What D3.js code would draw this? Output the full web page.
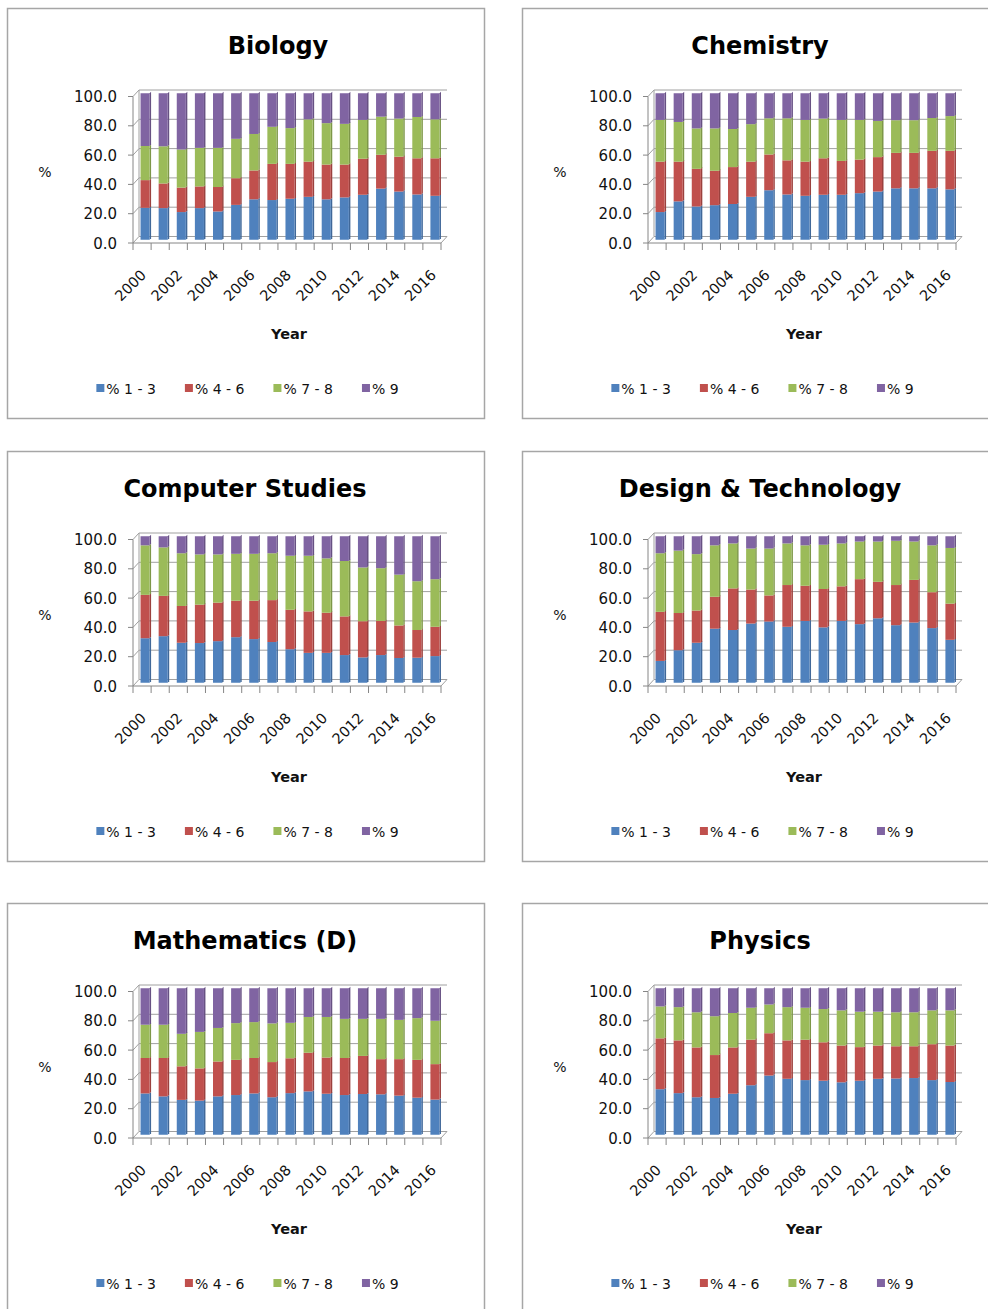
<!DOCTYPE html>
<html>
<head>
<meta charset="utf-8">
<script src="https://cdn.jsdelivr.net/npm/d3@7"></script>
<style>
  body { margin: 0; background: #fff; }
  text { font-family: "DejaVu Sans", Verdana, sans-serif; fill: #111; }
</style>
</head>
<body>
<div id="chart"></div>
<script>
// categories
const years = [2000, 2001, 2002, 2003, 2004, 2005, 2006, 2007, 2008,
               2009, 2010, 2011, 2012, 2013, 2014, 2015, 2016];
const yearTicks = [2000, 2002, 2004, 2006, 2008, 2010, 2012, 2014, 2016];
const seriesNames = ["% 1 - 3", "% 4 - 6", "% 7 - 8", "% 9"];
const subjects = ["Biology", "Chemistry", "Computer Studies", "Design & Technology", "Mathematics (D)", "Physics"];
const yTicks = [0, 20, 40, 60, 80, 100];

// values per subject : [%1-3, %4-6, %7-8, %9], one value per year
const biology = [
  [21.8, 21.6, 18.9, 21.6, 19.3, 23.8, 27.6, 27.1, 28.0, 29.3, 27.6, 28.9, 30.7, 34.9, 32.9, 30.9, 30.0],
  [18.9, 16.8, 16.7, 14.8, 16.7, 18.2, 19.7, 24.7, 23.8, 24.0, 23.7, 22.4, 24.6, 23.1, 23.8, 24.7, 25.6],
  [23.3, 25.4, 26.0, 26.3, 26.7, 26.9, 24.9, 25.3, 24.4, 28.9, 28.3, 27.8, 26.5, 26.0, 26.0, 28.2, 26.6],
  [36.0, 36.2, 38.4, 37.3, 37.3, 31.1, 27.8, 22.9, 23.8, 17.8, 20.4, 20.9, 18.2, 16.0, 17.3, 16.2, 17.8]
];
const chemistry = [
  [18.9, 26.2, 22.7, 23.6, 24.4, 29.3, 33.8, 30.9, 30.0, 30.7, 30.7, 31.8, 32.9, 35.1, 35.1, 35.1, 34.4],
  [34.4, 27.1, 25.7, 23.5, 25.2, 24.0, 24.4, 23.3, 23.3, 24.9, 23.1, 22.9, 23.5, 24.2, 24.2, 25.6, 26.3],
  [28.5, 27.1, 27.6, 28.9, 26.0, 25.6, 24.7, 28.7, 28.5, 27.1, 28.0, 27.1, 24.7, 22.3, 22.3, 22.4, 23.7],
  [18.2, 19.6, 24.0, 24.0, 24.4, 21.1, 17.1, 17.1, 18.2, 17.3, 18.2, 18.2, 18.9, 18.4, 18.4, 16.9, 15.6]
];
const computerStudies = [
  [30.4, 31.8, 27.3, 27.1, 28.4, 31.1, 29.8, 27.8, 22.9, 20.4, 20.4, 18.9, 17.3, 18.9, 16.9, 17.1, 18.2],
  [29.6, 27.5, 25.1, 26.2, 26.3, 24.9, 26.2, 28.6, 26.9, 28.3, 27.4, 26.4, 24.7, 23.3, 22.2, 18.9, 20.0],
  [33.8, 33.1, 36.0, 34.3, 32.9, 32.0, 32.0, 32.0, 36.9, 38.0, 37.1, 37.8, 36.7, 36.0, 34.7, 33.3, 32.5],
  [6.2, 7.6, 11.6, 12.4, 12.4, 12.0, 12.0, 11.6, 13.3, 13.3, 15.1, 16.9, 21.3, 21.8, 26.2, 30.7, 29.3]
];
const designTech = [
  [14.9, 22.2, 27.3, 36.9, 36.0, 40.4, 41.8, 38.2, 42.2, 37.8, 42.2, 40.0, 44.0, 39.3, 41.1, 37.3, 29.3],
  [33.5, 25.4, 22.0, 21.8, 28.4, 23.2, 17.8, 28.5, 24.0, 26.2, 23.6, 30.7, 24.9, 27.4, 29.1, 24.5, 24.7],
  [40.0, 42.6, 38.5, 35.1, 30.7, 28.0, 32.0, 28.4, 27.6, 30.2, 29.3, 25.7, 27.5, 30.2, 26.2, 32.0, 38.0],
  [11.6, 9.8, 12.2, 6.2, 4.9, 8.4, 8.4, 4.9, 6.2, 5.8, 4.9, 3.6, 3.6, 3.1, 3.6, 6.2, 8.0]
];
const mathematics = [
  [28.2, 26.2, 23.8, 23.3, 26.2, 27.1, 28.2, 25.6, 28.4, 29.6, 28.0, 27.1, 27.8, 27.6, 26.7, 25.3, 24.0],
  [24.2, 26.2, 22.9, 22.0, 23.8, 24.0, 24.2, 24.0, 23.8, 26.4, 24.7, 25.3, 26.0, 24.0, 24.9, 25.8, 24.2],
  [22.7, 22.7, 22.2, 24.9, 22.9, 25.1, 24.5, 26.4, 24.2, 24.4, 27.7, 26.7, 25.3, 27.5, 26.8, 28.5, 29.6],
  [24.9, 24.9, 31.1, 29.8, 27.1, 23.8, 23.1, 24.0, 23.6, 19.6, 19.6, 20.9, 20.9, 20.9, 21.6, 20.4, 22.2]
];
const physics = [
  [31.1, 28.4, 25.6, 25.1, 28.0, 33.8, 40.4, 38.2, 37.3, 36.9, 35.8, 36.9, 38.2, 38.4, 38.7, 37.3, 36.0],
  [34.7, 36.0, 34.0, 29.3, 31.6, 31.1, 28.9, 26.2, 27.6, 26.2, 25.1, 22.9, 22.7, 22.0, 21.7, 24.5, 24.9],
  [21.8, 22.7, 24.0, 26.5, 23.5, 21.8, 19.6, 22.7, 21.8, 22.7, 24.0, 24.2, 23.1, 23.2, 23.2, 23.1, 24.0],
  [12.4, 12.9, 16.4, 19.1, 16.9, 13.3, 11.1, 12.9, 13.3, 14.2, 15.1, 16.0, 16.0, 16.4, 16.4, 15.1, 15.1]
];
const subjectValues = [biology, chemistry, computerStudies, designTech, mathematics, physics];

const colors = ["#4f81bd", "#c0504d", "#9bbb59", "#8064a2"];

// layout
const W = 988, H = 1309;
const colX = [7, 522], rowY = [8, 451, 903];
const panelW = 477, panelH = 410;
const titleShift = [33, 0, 0, 0, 0, 0];
const px0 = 126, px1 = 434, py0 = 235, py1 = 88.5;
const dx = 6, dy = -6.5; // depth of the 3d walls

const svg = d3.create("svg")
    .attr("width", W)
    .attr("height", H)
    .style("display", "block")
    .style("background", "#fff");

// attach first so text lengths can be measured
document.getElementById("chart").appendChild(svg.node());

const x = d3.scaleBand().domain(years).range([px0, px1]).paddingInner(0.5).paddingOuter(0.25);
const y = d3.scaleLinear().domain([0, 100]).range([py0, py1]);
const step = x.step();
const bw = x.bandwidth();

subjects.forEach((name, k) => {
  const g = svg.append("g")
      .attr("transform", `translate(${colX[k % 2]},${rowY[Math.floor(k / 2)]})`);

  g.append("rect")
      .attr("x", 0.5).attr("y", 0.5)
      .attr("width", panelW).attr("height", panelH)
      .attr("fill", "#fff")
      .attr("stroke", "#a6a6a6")
      .attr("stroke-width", 1.5);

  g.append("text")
      .attr("x", 238 + titleShift[k])
      .attr("y", 46)
      .attr("text-anchor", "middle")
      .style("font-size", "24px")
      .style("font-weight", "bold")
      .style("fill", "#000")
      .text(name);

  // back wall + floor
  const grid = g.append("g").attr("stroke", "#a0a0a0").attr("stroke-width", 1).attr("fill", "none");
  grid.selectAll("line.gl")
    .data(yTicks)
    .join("line")
      .attr("x1", px0 + dx).attr("x2", px1 + dx)
      .attr("y1", d => y(d) + dy).attr("y2", d => y(d) + dy);
  grid.selectAll("line.dg")
    .data(yTicks)
    .join("line")
      .attr("x1", px0).attr("x2", px0 + dx)
      .attr("y1", d => y(d)).attr("y2", d => y(d) + dy);
  grid.append("line")
      .attr("x1", px0 + dx).attr("x2", px0 + dx)
      .attr("y1", y(0) + dy).attr("y2", y(100) + dy);
  grid.append("line")
      .attr("x1", px1).attr("x2", px1 + dx)
      .attr("y1", y(0)).attr("y2", y(0) + dy);

  // stacked columns
  const rows = years.map((yr, i) => {
    const o = { year: yr };
    seriesNames.forEach((s, j) => o[s] = subjectValues[k][j][i]);
    return o;
  });
  const stacked = d3.stack().keys(seriesNames)(rows);

  const bars = g.append("g");
  stacked.forEach((layer, j) => {
    const lg = bars.append("g");
    lg.selectAll("path.side")
      .data(layer)
      .join("path")
        .attr("fill", d3.color(colors[j]).darker(0.6))
        .attr("d", d => {
          const bx = x(d.data.year) + dx / 2 + bw, by = y(d[1]) + dy / 2, bh = y(d[0]) - y(d[1]);
          return `M${bx},${by}L${bx + 1.5},${by - 1.5}L${bx + 1.5},${by + bh - 1.5}L${bx},${by + bh}Z`;
        });
    lg.selectAll("rect")
      .data(layer)
      .join("rect")
        .attr("x", d => x(d.data.year) + dx / 2)
        .attr("y", d => y(d[1]) + dy / 2)
        .attr("width", bw)
        .attr("height", d => y(d[0]) - y(d[1]))
        .attr("fill", colors[j]);
  });

  // front axes
  const ax = g.append("g").attr("stroke", "#868686").attr("stroke-width", 1);
  ax.append("line")
      .attr("x1", px0).attr("x2", px0)
      .attr("y1", y(0)).attr("y2", y(100));
  ax.selectAll("line.yt")
    .data(yTicks)
    .join("line")
      .attr("x1", px0 - 5).attr("x2", px0)
      .attr("y1", d => y(d)).attr("y2", d => y(d));
  ax.append("line")
      .attr("x1", px0).attr("x2", px1)
      .attr("y1", y(0)).attr("y2", y(0));
  ax.selectAll("line.xt")
    .data(d3.range(years.length + 1))
    .join("line")
      .attr("x1", i => px0 + i * step).attr("x2", i => px0 + i * step)
      .attr("y1", y(0)).attr("y2", y(0) + 7);

  g.selectAll("text.ytl")
    .data(yTicks)
    .join("text")
      .attr("x", px0 - 16)
      .attr("y", d => y(d) + 5.5)
      .attr("text-anchor", "end")
      .style("font-size", "15px")
      .text(d => d3.format(".1f")(d));

  g.append("text")
      .attr("x", 38).attr("y", 169)
      .attr("text-anchor", "middle")
      .style("font-size", "14px")
      .text("%");

  g.selectAll("text.xtl")
    .data(yearTicks)
    .join("text")
      .attr("text-anchor", "end")
      .attr("transform", d => `translate(${x(d) + bw / 2 + 5},${py0 + 33}) rotate(-45)`)
      .style("font-size", "14.5px")
      .text(d => d);

  g.append("text")
      .attr("x", (px0 + px1) / 2 + 2).attr("y", 331)
      .attr("text-anchor", "middle")
      .style("font-size", "14.5px")
      .style("font-weight", "bold")
      .text("Year");

  // legend
  const leg = g.append("g");
  let lx = 0;
  seriesNames.forEach((s, j) => {
    const it = leg.append("g").attr("transform", `translate(${lx},0)`);
    it.append("rect")
        .attr("x", 0).attr("y", -4)
        .attr("width", 8).attr("height", 8)
        .attr("fill", colors[j]);
    const t = it.append("text")
        .attr("x", 10).attr("y", 5.5)
        .style("font-size", "14px")
        .text(s);
    lx += 10 + t.node().getComputedTextLength() + 29;
  });
  lx -= 29;
  leg.attr("transform", `translate(${(panelW - lx) / 2 + 2},380)`);
});
</script>
</body>
</html>
